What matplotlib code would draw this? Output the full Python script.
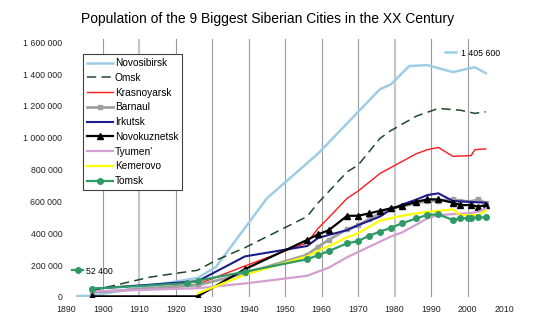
import numpy as np
import matplotlib
matplotlib.use("Agg")
import matplotlib.pyplot as plt
from matplotlib.ticker import FuncFormatter
from matplotlib.lines import Line2D


# ---- City populations (census / estimate years)
nsk_years = [1893, 1897, 1926, 1931, 1945, 1959, 1976, 1979, 1984, 1989, 1996, 2002, 2005]
nsk_pop = [6000, 7800, 120000, 188000, 620000, 900000, 1305000, 1335000,
           1450000, 1456000, 1412000, 1443000, 1405600]

omsk_years = [1897, 1913, 1926, 1931, 1939, 1956, 1959, 1967, 1970, 1976,
              1979, 1986, 1992, 1998, 2002, 2005]
omsk_pop = [40000, 125000, 168000, 230000, 310000, 505000, 590000, 786000,
            828000, 996000, 1045000, 1136000, 1184000, 1173000, 1153000, 1163000]

kras_years = [1897, 1926, 1939, 1956, 1959, 1962, 1967, 1970, 1976, 1986,
              1989, 1992, 1996, 2001, 2002, 2005]
kras_pop = [27000, 80000, 195000, 340000, 430000, 500000, 620000, 665000,
            776000, 900000, 925000, 939000, 883000, 888000, 925000, 930000]

barn_years = [1897, 1926, 1939, 1956, 1959, 1962, 1967, 1970, 1973, 1976,
              1979, 1982, 1986, 1989, 1992, 1996, 1998, 2001, 2003, 2005]
barn_pop = [29000, 74000, 148000, 265000, 315000, 360000, 425000, 450000,
            488000, 525000, 555000, 570000, 590000, 602000, 605000, 613000,
            605000, 598000, 615000, 588000]

irk_years = [1897, 1926, 1939, 1956, 1959, 1962, 1967, 1970, 1976, 1979,
             1982, 1986, 1989, 1992, 1996, 2005]
irk_pop = [51000, 99000, 255000, 320000, 370000, 390000, 420000, 451000,
           505000, 550000, 580000, 612000, 640000, 651000, 603000, 592000]

nkz_years = [1897, 1926, 1939, 1956, 1959, 1962, 1967, 1970, 1973, 1976,
             1979, 1982, 1986, 1989, 1992, 1996, 1998, 2001, 2003, 2005]
nkz_pop = [4000, 4000, 175000, 358000, 393000, 420000, 510000, 510000,
           525000, 541000, 557000, 571000, 598000, 613000, 613000, 592000,
           577000, 577000, 567000, 577000]

tyu_years = [1897, 1926, 1939, 1956, 1962, 1967, 1973, 1979, 1982, 1986,
             1989, 1992, 1996, 2000, 2003, 2005]
tyu_pop = [35000, 55000, 85000, 133000, 185000, 250000, 315000, 380000,
           405000, 455000, 494000, 515000, 520000, 525000, 535000, 557000]

kem_years = [1926, 1939, 1956, 1959, 1962, 1967, 1970, 1976, 1979, 1982,
             1986, 1989, 1992, 1996, 1998, 2003, 2005]
kem_pop = [22000, 140000, 255000, 290000, 320000, 375000, 400000, 480000,
           495000, 510000, 525000, 535000, 540000, 550000, 514000, 514000, 541000]

tom_years = [1897, 1923, 1926, 1939, 1956, 1959, 1962, 1967, 1970, 1973,
             1976, 1979, 1982, 1986, 1989, 1992, 1996, 1998, 2000, 2001,
             2003, 2005]
tom_pop = [52400, 86000, 102000, 159000, 237000, 262000, 289000, 337000,
           351000, 385000, 410000, 435000, 462000, 494000, 515000, 519000,
           483000, 494000, 494000, 494000, 500000, 500000]

x_ticks = list(range(1890, 2011, 10))
y_ticks = list(range(0, 1600001, 200000))
grid_years = list(range(1900, 2001, 10))
light_grid_years = [1910, 1980]


def spaced(v, pos=None):
    return f"{int(v):,}".replace(",", " ")


plt.rcParams["font.family"] = ["Liberation Sans", "DejaVu Sans"]

fig = plt.figure(figsize=(5.4, 3.36), dpi=100)
ax = fig.add_axes([66.3 / 540, 1 - 297 / 336, (504 - 66.3) / 540, (297 - 39) / 336])

# ---- vertical year gridlines
for yr in grid_years:
    if yr in light_grid_years:
        ax.axvline(yr, color="#c8c8c8", lw=1.6, zorder=0)
    else:
        ax.axvline(yr, color="#9a9a9a", lw=0.8, zorder=0)

# ---- series
h_nsk, = ax.plot(nsk_years, nsk_pop, color="#9fcde6", lw=1.8, label="Novosibirsk")
h_omsk, = ax.plot(omsk_years, omsk_pop, color="#1f4a2a", lw=1.1,
                  linestyle=(0, (6, 3.5)), label="Omsk")
h_kras, = ax.plot(kras_years, kras_pop, color="#ff1a1a", lw=1.0, label="Krasnoyarsk")
h_barn, = ax.plot(barn_years, barn_pop, color="#a0a0a0", lw=2.0, marker="s",
                  ms=3.5, label="Barnaul")
h_irk, = ax.plot(irk_years, irk_pop, color="#1c1c8c", lw=1.5, label="Irkutsk")
h_nkz, = ax.plot(nkz_years, nkz_pop, color="black", lw=1.6, marker="^",
                 ms=3.8, label="Novokuznetsk")
h_tyu, = ax.plot(tyu_years, tyu_pop, color="#d39fd3", lw=1.6, label="Tyumen'")
h_kem, = ax.plot(kem_years, kem_pop, color="#ffff00", lw=1.6, label="Kemerovo")
h_tom, = ax.plot(tom_years, tom_pop, color="#2f9a66", lw=1.6, marker="o",
                 ms=4, label="Tomsk")

ax.set_xlim(1890, 2010)
ax.set_ylim(0, 1620000)
ax.set_xticks(x_ticks)
ax.set_yticks(y_ticks)
ax.yaxis.set_major_formatter(FuncFormatter(spaced))
ax.tick_params(length=0, labelsize=6.3, colors="#222222")
ax.tick_params(axis="x", pad=6)
ax.tick_params(axis="y", pad=3)
for s in ax.spines.values():
    s.set_visible(False)

fig.text(268 / 540, 1 - 18.5 / 336,
         "Population of the 9 Biggest Siberian Cities in the XX Century",
         ha="center", va="center", fontsize=10)

# ---- main legend
leg = fig.legend(handles=[h_nsk, h_omsk, h_kras, h_barn, h_irk, h_nkz, h_tyu, h_kem, h_tom],
                 loc="upper left", bbox_to_anchor=(83 / 540, 1 - 54 / 336),
                 borderaxespad=0, fontsize=7.3, handlelength=2.6,
                 handletextpad=0.15, labelspacing=0.47, borderpad=0.4,
                 fancybox=False, framealpha=1, edgecolor="#404040")
leg.get_frame().set_linewidth(0.8)

# ---- value callouts: first Tomsk figure and last Novosibirsk figure
tom_key = Line2D([], [], color="#2f9a66", lw=1.6, marker="o", ms=4)
lg1 = fig.legend(handles=[tom_key], labels=[spaced(tom_pop[0])],
                 loc="center left", bbox_to_anchor=(72 / 540, 1 - 271 / 336),
                 frameon=False, fontsize=6.3, handlelength=1.3,
                 handletextpad=0.25, borderpad=0, borderaxespad=0)
nsk_key = Line2D([], [], color="#9fcde6", lw=1.8)
lg2 = fig.legend(handles=[nsk_key], labels=[spaced(nsk_pop[-1])],
                 loc="center left", bbox_to_anchor=(445 / 540, 1 - 53 / 336),
                 frameon=False, fontsize=6.3, handlelength=1.2,
                 handletextpad=0.6, borderpad=0, borderaxespad=0)

fig.savefig("out.png", dpi=100)
